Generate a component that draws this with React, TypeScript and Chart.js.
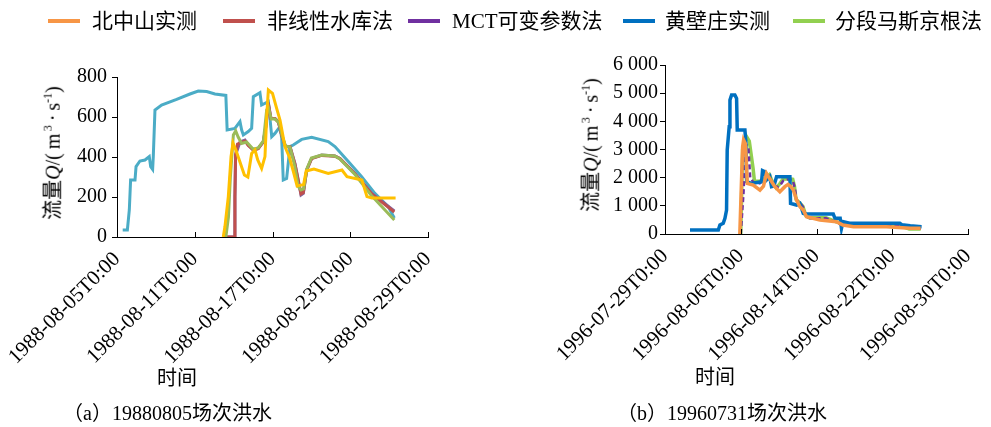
import React, { useEffect, useRef } from 'react';
import { Chart, registerables } from 'chart.js';

Chart.register(...registerables);

type Pt = [number, number];

// ---------- legend ----------
const seriesNames = ['北中山实测', '非线性水库法', 'MCT可变参数法', '黄壁庄实测', '分段马斯京根法'];
const legendColors = ['#F79646', '#C0504D', '#7030A0', '#0070C0', '#92D050'];

// ---------- tick labels ----------
const ticksA = ['1988-08-05T0:00', '1988-08-11T0:00', '1988-08-17T0:00', '1988-08-23T0:00', '1988-08-29T0:00'];
const ticksB = ['1996-07-29T0:00', '1996-08-06T0:00', '1996-08-14T0:00', '1996-08-22T0:00', '1996-08-30T0:00'];

// ---------- (a) 19880805 flood: [days since 1988-08-05T0:00, Q] ----------
const bzsObs88: Pt[] = [
  [8.2, 0], [8.33, 52], [8.59, 202], [8.8, 402], [8.95, 470], [9.2, 430], [9.83, 310], [10.1, 300],
  [10.39, 418], [10.65, 435], [10.86, 385], [11.16, 343], [11.42, 402], [11.55, 600], [11.68, 735],
  [12.0, 718], [12.32, 643], [12.58, 585], [12.96, 452], [13.3, 400], [13.6, 330], [13.9, 255],
  [14.4, 262], [14.6, 330], [15.2, 340], [16.3, 318], [17.36, 335], [17.75, 302], [18.9, 285],
  [19.29, 202], [19.67, 195], [21.5, 195],
];
const nlr88: Pt[] = [
  [8.2, 0], [9.05, 0], [9.1, 200], [9.15, 410], [9.3, 465], [9.88, 480], [10.13, 458], [10.52, 435],
  [10.9, 442], [11.29, 475], [11.5, 555], [11.62, 640], [11.72, 650], [11.88, 592], [12.19, 592],
  [12.45, 575], [12.71, 508], [13.0, 452], [13.35, 450], [13.73, 365], [13.99, 280], [14.2, 215],
  [14.38, 222], [14.64, 335], [15.02, 392], [15.79, 408], [16.82, 404], [17.2, 392], [18.36, 316],
  [19.65, 216], [21.4, 125],
];
const mct88: Pt[] = [
  [8.2, 0], [9.05, 0], [9.1, 200], [9.15, 410], [9.49, 475], [9.88, 485], [10.13, 460], [10.52, 435],
  [10.9, 443], [11.29, 477], [11.5, 560], [11.62, 643], [11.72, 655], [11.88, 593], [12.19, 593],
  [12.45, 577], [12.71, 510], [13.0, 452], [13.35, 452], [13.73, 368], [13.99, 285], [14.2, 210],
  [14.38, 218], [14.64, 335], [15.02, 393], [15.79, 410], [16.82, 405], [17.2, 393], [18.36, 318],
  [19.65, 218], [21.4, 130],
];
const hbzObs88: Pt[] = [
  [0.44, 35], [0.8, 35], [0.95, 135], [1.05, 285], [1.39, 285], [1.47, 352], [1.77, 380], [2.16, 385],
  [2.49, 402], [2.6, 352], [2.75, 338], [2.8, 402], [2.93, 635], [3.44, 660], [4.6, 688], [5.63, 715],
  [6.27, 730], [6.92, 727], [7.56, 715], [8.4, 708], [8.5, 535], [9.1, 543], [9.49, 577], [9.62, 535],
  [9.75, 510], [10.13, 527], [10.39, 543], [10.52, 702], [11.03, 722], [11.16, 660], [11.68, 677],
  [11.94, 502], [12.19, 518], [12.58, 552], [12.71, 493], [12.83, 285], [13.09, 293], [13.35, 452],
  [13.6, 460], [14.25, 488], [15.02, 498], [16.3, 477], [16.82, 452], [17.85, 377], [18.88, 302],
  [19.9, 218], [20.93, 152], [21.4, 95],
];
const msk88: Pt[] = [
  [8.4, 0], [8.6, 100], [8.75, 300], [8.98, 510], [9.16, 530], [9.35, 500], [9.62, 468], [10.0, 475],
  [10.5, 440], [10.9, 445], [11.3, 480], [11.55, 635], [11.68, 650], [11.9, 590], [12.2, 590],
  [12.5, 570], [12.75, 505], [13.0, 455], [13.35, 450], [13.7, 360], [13.99, 252], [14.2, 235],
  [14.4, 240], [14.65, 340], [15.0, 395], [15.8, 410], [16.8, 405], [17.2, 390], [18.4, 310],
  [19.6, 210], [21.4, 85],
];

// ---------- (b) 19960731 flood: [days since 1996-07-29T0:00, Q] ----------
const bzsObs96: Pt[] = [
  [7.9, 0], [8.07, 1800], [8.2, 3100], [8.3, 3340], [8.5, 3200], [8.69, 1798], [9.32, 1740],
  [10.03, 1560], [10.4, 1700], [10.72, 2150], [10.9, 2050], [11.6, 1680], [12.13, 1500], [12.66, 1680],
  [13.0, 1760], [13.3, 1680], [13.55, 1560], [13.9, 1206], [14.25, 970], [14.6, 850], [14.95, 615],
  [16.36, 497], [18.1, 437], [18.8, 320], [19.9, 260], [23.4, 260], [25.9, 200], [27.0, 200],
];
const hbzObs96: Pt[] = [
  [2.64, 142], [5.63, 142], [5.8, 320], [6.15, 380], [6.33, 556], [6.5, 852], [6.57, 2980], [6.78, 3810],
  [6.86, 4756], [7.03, 4933], [7.38, 4933], [7.56, 4815], [7.63, 3690], [8.44, 3690], [8.55, 3218],
  [8.62, 1857], [9.14, 1798], [10.2, 1857], [10.3, 2248], [10.55, 2212], [10.72, 1916], [11.07, 2035],
  [11.25, 1680], [11.5, 1700], [11.78, 2035], [13.19, 2035], [13.26, 1088], [13.9, 1029], [14.25, 1088],
  [14.6, 733], [14.78, 710], [17.77, 710], [17.95, 556], [18.5, 556], [18.64, 200], [18.8, 437],
  [19.5, 380], [24.8, 380], [25.0, 330], [25.9, 290], [27.1, 260],
];
const mct96: Pt[] = [
  [8.0, 0], [8.3, 1500], [8.5, 3200], [8.8, 3100], [9.0, 2000], [9.3, 1850], [10.0, 1800], [10.7, 2000],
  [11.0, 2050], [11.4, 1800], [11.8, 1650], [12.2, 1750], [12.5, 1900], [13.1, 1950], [13.5, 1900],
  [13.7, 1650], [13.9, 1200], [14.3, 1100], [14.6, 950], [14.9, 620], [15.3, 560], [17.0, 560],
  [17.9, 440], [18.5, 350], [20.0, 320], [25.0, 270], [25.8, 190], [27.0, 190],
];
const msk96: Pt[] = [
  [8.0, 0], [8.1, 1500], [8.2, 3000], [8.62, 3455], [8.9, 3300], [9.3, 2340], [9.45, 1870], [9.97, 1870],
  [10.68, 1990], [11.03, 2100], [11.38, 1820], [11.73, 1640], [12.08, 1760], [12.43, 1940], [13.14, 1960],
  [13.49, 1940], [13.67, 1700], [13.84, 1230], [14.2, 1110], [14.55, 990], [14.9, 640], [15.25, 580],
  [17.0, 580], [17.9, 460], [18.4, 400], [19.9, 320], [25.1, 260], [25.8, 177], [27.0, 177],
];

const SERIF = '"Liberation Serif", "Noto Sans CJK SC", serif';

type Series = { data: Pt[]; color: string; dash?: number[]; width?: number };

const innerTicks = {
  id: 'innerTicks',
  afterDraw(chart: any) {
    const xs = chart.scales.x;
    const ctx = chart.ctx;
    ctx.save();
    ctx.strokeStyle = '#000';
    ctx.lineWidth = 1;
    xs.ticks.forEach((t: any) => {
      const px = Math.round(xs.getPixelForValue(t.value)) + 0.5;
      ctx.beginPath();
      ctx.moveTo(px, xs.top);
      ctx.lineTo(px, xs.top - 5);
      ctx.stroke();
    });
    ctx.restore();
  },
};

function fmtThousands(v: number): string {
  if (v >= 1000) return `${Math.floor(v / 1000)} ${String(v % 1000).padStart(3, '0')}`;
  return String(v);
}

type ChartProps = {
  series: Series[];
  xLabels: string[];
  xMax: number;
  xStep: number;
  yMax: number;
  yStep: number;
  left: number;
  width: number;
  height: number;
  padTop: number;
  padRight: number;
  yWidth: number;
  xHeight: number;
  yPad: number;
};

function FloodChart(p: ChartProps) {
  const ref = useRef<HTMLCanvasElement>(null);
  useEffect(() => {
    const chart = new Chart(ref.current as HTMLCanvasElement, {
      type: 'line',
      data: {
        datasets: p.series.map((s) => ({
          data: s.data.map(([x, y]) => ({ x, y })),
          borderColor: s.color,
          backgroundColor: s.color,
          borderWidth: s.width ?? 3,
          borderDash: s.dash ?? [],
          pointRadius: 0,
          fill: false,
          tension: 0,
        })),
      },
      options: {
        responsive: false,
        animation: false,
        events: [],
        layout: { padding: { left: 0, top: p.padTop, right: p.padRight, bottom: 0 } },
        plugins: { legend: { display: false }, tooltip: { enabled: false } },
        scales: {
          x: {
            type: 'linear',
            min: 0,
            max: p.xMax,
            grid: { display: false },
            border: { display: true, color: '#000', width: 1 },
            ticks: {
              stepSize: p.xStep,
              autoSkip: false,
              maxRotation: 45,
              minRotation: 45,
              padding: 2,
              color: '#000',
              font: { family: SERIF, size: 21 },
              callback: (v: any) => p.xLabels[Math.round(Number(v) / p.xStep)] ?? '',
            },
            afterFit: (s: any) => {
              s.height = p.xHeight;
            },
          },
          y: {
            type: 'linear',
            min: 0,
            max: p.yMax,
            grid: { display: true, drawOnChartArea: false, drawTicks: true, tickLength: 5, color: '#000' },
            border: { display: true, color: '#000', width: 1 },
            ticks: {
              stepSize: p.yStep,
              padding: p.yPad,
              color: '#000',
              font: { family: SERIF, size: 20 },
              callback: (v: any) => fmtThousands(Number(v)),
            },
            afterFit: (s: any) => {
              s.width = p.yWidth;
            },
          },
        },
      } as any,
      plugins: [innerTicks],
    });
    return () => chart.destroy();
  }, []);
  return (
    <canvas
      ref={ref}
      width={p.width}
      height={p.height}
      style={{ position: 'absolute', left: p.left, top: 0, width: p.width, height: p.height }}
    />
  );
}

const legendSwatchX = [48, 223, 408, 623, 793];
const legendTextX = [92, 267, 452, 665, 835];

function YTitle({ cx, cy }: { cx: number; cy: number }) {
  return (
    <div
      style={{
        position: 'absolute',
        left: cx,
        top: cy,
        transform: 'translate(-50%, -50%) rotate(-90deg)',
        whiteSpace: 'nowrap',
        fontFamily: SERIF,
        fontSize: 20,
        lineHeight: '22px',
        color: '#000',
      }}
    >
      流量<i>Q</i>/(&thinsp;m<sup style={{ fontSize: 12 }}>&thinsp;3</sup>&thinsp;·&thinsp;s<sup style={{ fontSize: 12 }}>-1</sup>)
    </div>
  );
}

function Text({ x, cy, children, size = 20 }: { x: number; cy: number; children: React.ReactNode; size?: number }) {
  return (
    <div
      style={{
        position: 'absolute',
        left: x,
        top: cy - size / 2 - 2,
        whiteSpace: 'nowrap',
        fontFamily: SERIF,
        fontSize: size,
        lineHeight: `${size + 4}px`,
        color: '#000',
      }}
    >
      {children}
    </div>
  );
}

export default function App() {
  useEffect(() => {
    document.body.style.margin = '0';
  }, []);

  const seriesA: Series[] = [
    { data: bzsObs88, color: '#FFC000' },
    { data: msk88, color: '#9BBB59' },
    { data: nlr88, color: '#C0504D' },
    { data: mct88, color: '#8064A2' },
    { data: hbzObs88, color: '#4BACC6' },
  ];
  const seriesB: Series[] = [
    { data: bzsObs96, color: '#F79646', width: 3.5 },
    { data: hbzObs96, color: '#0070C0', width: 3.5 },
    { data: mct96, color: '#7030A0', dash: [5, 3], width: 2.5 },
    { data: msk96, color: '#92D050', width: 3.5 },
  ];

  return (
    <div style={{ position: 'absolute', left: 0, top: 0, width: 991, height: 427, background: '#fff', overflow: 'hidden' }}>
      <FloodChart
        series={seriesA}
        xLabels={ticksA}
        xMax={24}
        xStep={6}
        yMax={800}
        yStep={200}
        left={0}
        width={480}
        height={400}
        padTop={77}
        padRight={52}
        yWidth={117}
        xHeight={163}
        yPad={5}
      />
      <FloodChart
        series={seriesB}
        xLabels={ticksB}
        xMax={32}
        xStep={8}
        yMax={6000}
        yStep={1000}
        left={500}
        width={491}
        height={400}
        padTop={65}
        padRight={23}
        yWidth={165}
        xHeight={166}
        yPad={2}
      />
      {seriesNames.map((name, i) => (
        <React.Fragment key={name}>
          <div
            style={{
              position: 'absolute',
              left: legendSwatchX[i],
              top: 19,
              width: 32,
              height: 4,
              background: legendColors[i],
            }}
          />
          <Text x={legendTextX[i]} cy={21} size={21}>
            {name}
          </Text>
        </React.Fragment>
      ))}
      <YTitle cx={50} cy={153} />
      <YTitle cx={588} cy={145} />
      <Text x={157} cy={378}>时间</Text>
      <Text x={695} cy={377}>时间</Text>
      <Text x={63} cy={413}>（a）19880805场次洪水</Text>
      <Text x={617} cy={413}>（b）19960731场次洪水</Text>
    </div>
  );
}
